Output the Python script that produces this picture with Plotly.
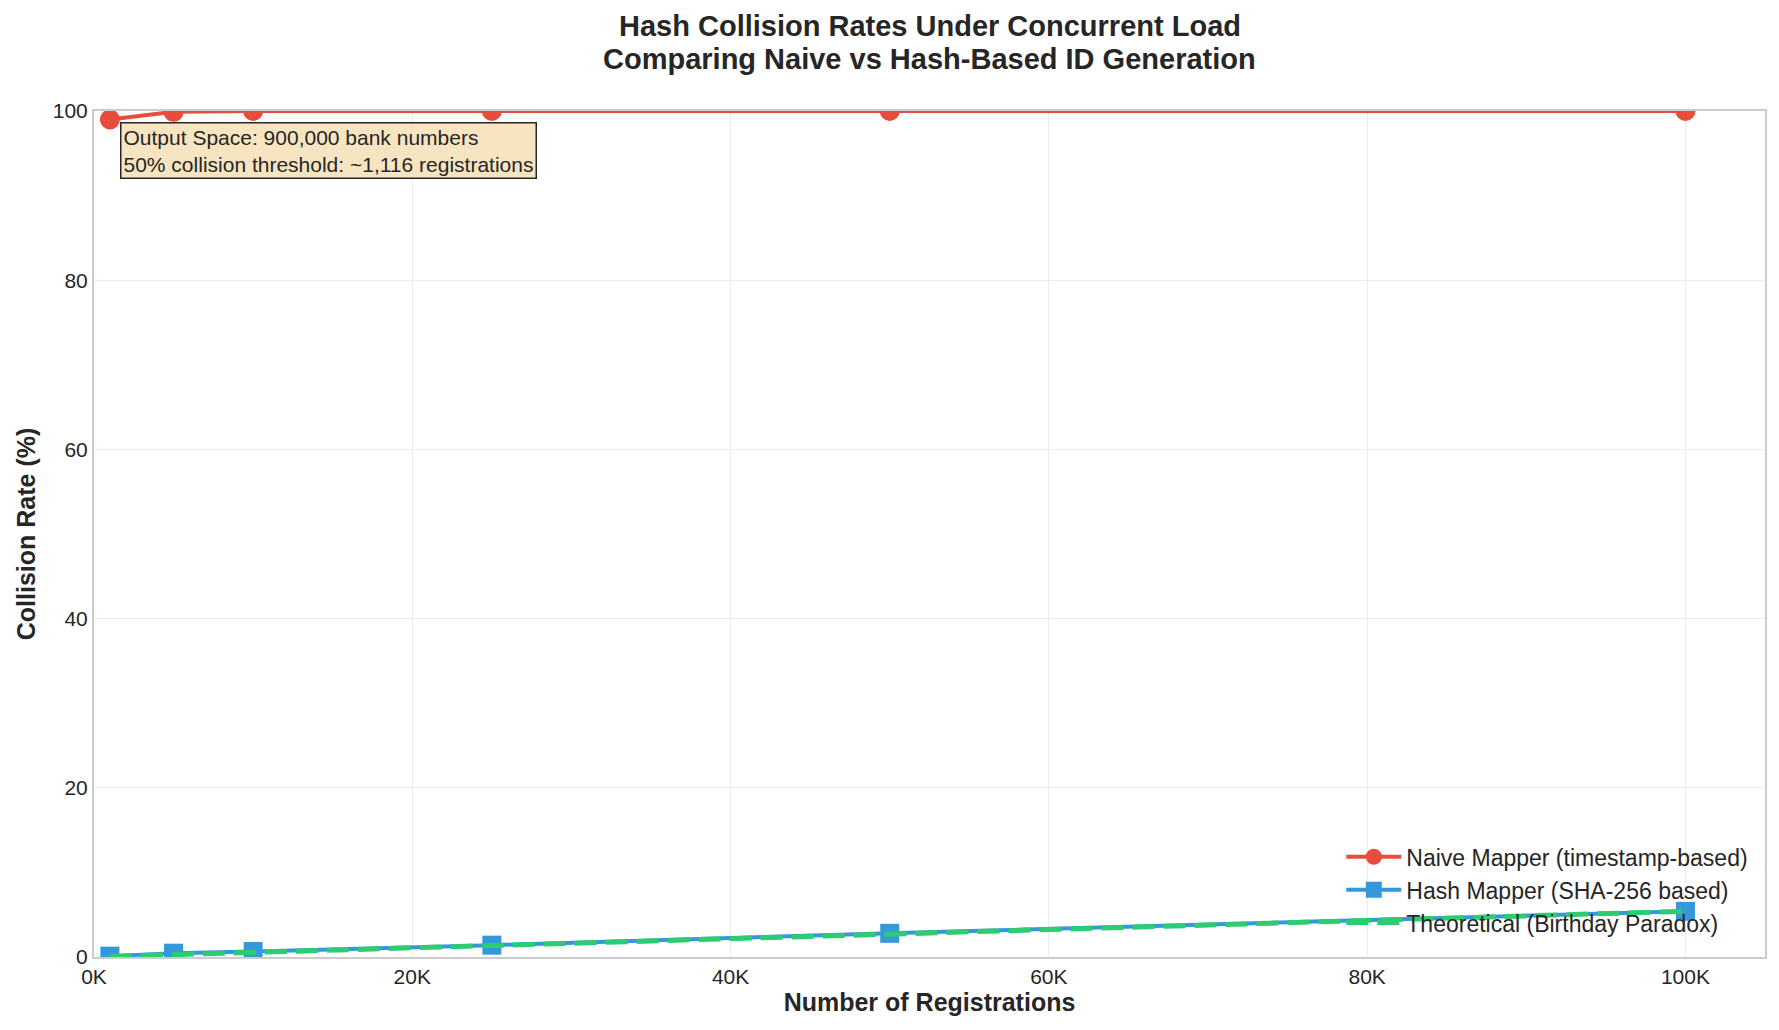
import plotly.graph_objects as go

registrations = [1000, 5000, 10000, 25000, 50000, 100000]
naive_rate = [99.0, 99.9, 100.0, 100.0, 100.0, 100.0]
hash_rate = [0.1, 0.45, 0.65, 1.4, 2.8, 5.4]
theory_rate = [0.06, 0.28, 0.55, 1.38, 2.74, 5.4]

x_ticks = [0, 20000, 40000, 60000, 80000, 100000]
x_tick_text = ["0K", "20K", "40K", "60K", "80K", "100K"]
y_ticks = [0, 20, 40, 60, 80, 100]

FONT = "Liberation Sans, Arial, sans-serif"
TXT = "#262626"

fig = go.Figure()
fig.add_trace(go.Scatter(
    x=registrations, y=naive_rate, mode="lines+markers",
    name="Naive Mapper (timestamp-based)",
    line=dict(color="#e74c3c", width=4),
    marker=dict(symbol="circle", size=20, color="#e74c3c"),
))
fig.add_trace(go.Scatter(
    x=registrations, y=hash_rate, mode="lines+markers",
    name="Hash Mapper (SHA-256 based)",
    line=dict(color="#3498db", width=4),
    marker=dict(symbol="square", size=19, color="#3498db"),
))
fig.add_trace(go.Scatter(
    x=registrations, y=theory_rate, mode="lines",
    name="Theoretical (Birthday Paradox)",
    line=dict(color="#2ecc71", width=5, dash="22px,9px"),
))

fig.update_layout(
    width=1779, height=1030,
    paper_bgcolor="white", plot_bgcolor="white",
    margin=dict(l=86, r=22, t=103, b=81),
    font=dict(family=FONT, size=22, color=TXT),
    legend=dict(
        x=0.993, y=0.015, xanchor="right", yanchor="bottom",
        bgcolor="rgba(0,0,0,0)", font=dict(size=23, color=TXT),
        itemwidth=55, tracegroupgap=5,
    ),
    showlegend=True,
)
fig.update_xaxes(
    range=[0, 105000], tickvals=x_ticks, ticktext=x_tick_text,
    showgrid=True, gridcolor="#ebebeb", gridwidth=1,
    showline=True, linecolor="#cccccc", linewidth=2, mirror=True,
    zeroline=False, ticks="", tickfont=dict(size=21, color=TXT),
    title=dict(text="<b>Number of Registrations</b>", font=dict(size=25, color=TXT), standoff=6),
)
fig.update_yaxes(
    range=[0, 100], tickvals=y_ticks,
    showgrid=True, gridcolor="#ebebeb", gridwidth=1,
    showline=True, linecolor="#cccccc", linewidth=2, mirror=True,
    zeroline=False, ticks="", tickfont=dict(size=21, color=TXT),
    title=dict(text="<b>Collision Rate (%)</b>", font=dict(size=25, color=TXT), standoff=10),
)
fig.add_annotation(
    xref="paper", yref="paper", x=0.5, y=1.101, xanchor="center", yanchor="middle",
    text="<b>Hash Collision Rates Under Concurrent Load</b>", showarrow=False,
    font=dict(size=29, color=TXT),
)
fig.add_annotation(
    xref="paper", yref="paper", x=0.5, y=1.061, xanchor="center", yanchor="middle",
    text="<b>Comparing Naive vs Hash-Based ID Generation</b>", showarrow=False,
    font=dict(size=29, color=TXT),
)
fig.add_annotation(
    xref="paper", yref="paper", x=0.0155, y=0.987, xanchor="left", yanchor="top",
    text="Output Space: 900,000 bank numbers<br>50% collision threshold: ~1,116 registrations",
    showarrow=False, align="left",
    font=dict(size=21, color=TXT),
    bgcolor="rgba(245,222,179,0.8)", bordercolor="#262626", borderwidth=1.5, borderpad=2,
)
fig.write_html("out.html")
